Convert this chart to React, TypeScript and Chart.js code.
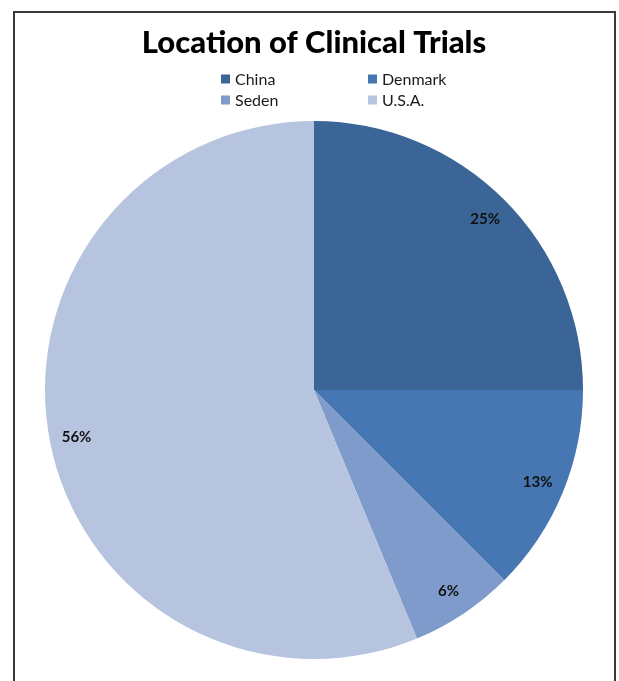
import React, { useEffect, useRef } from "react";
import { Chart, registerables } from "chart.js";

Chart.register(...registerables);

const categories = ["China", "Denmark", "Seden", "U.S.A."];
const trialCounts = [12, 6, 3, 27];
const sliceColors = ["#3A6596", "#4677B3", "#7E9BCB", "#B7C4DF"];
const titleText = "Location of Clinical Trials";

const FONT = "Lato, 'Open Sans', sans-serif";

const gridLegend = {
  id: "gridLegend",
  afterDraw(chart: any, _args: any, opts: any) {
    const ctx = chart.ctx;
    const labels: string[] = chart.data.labels;
    const colors: string[] = chart.data.datasets[0].backgroundColor;
    ctx.save();
    ctx.font = `${opts.fontSize}px ${FONT}`;
    ctx.textBaseline = "middle";
    ctx.textAlign = "left";
    labels.forEach((lab, i) => {
      const col = i % 2;
      const row = Math.floor(i / 2);
      const x = opts.colX[col];
      const y = opts.rowY[row];
      ctx.fillStyle = colors[i];
      ctx.fillRect(x, y - opts.box / 2, opts.box, opts.box);
      ctx.fillStyle = "#1a1a1a";
      ctx.fillText(lab, x + opts.box + 5, y + 0.5);
    });
    ctx.restore();
  },
};

const pctLabels = {
  id: "pctLabels",
  afterDatasetsDraw(chart: any, _args: any, opts: any) {
    const ctx = chart.ctx;
    const meta = chart.getDatasetMeta(0);
    const data: number[] = chart.data.datasets[0].data;
    const total = data.reduce((a, b) => a + b, 0);
    ctx.save();
    ctx.font = `bold ${opts.fontSize}px ${FONT}`;
    ctx.fillStyle = "#111";
    ctx.textAlign = "center";
    ctx.textBaseline = "middle";
    meta.data.forEach((arc: any, i: number) => {
      const p = arc.getProps(["x", "y", "startAngle", "endAngle", "outerRadius"], true);
      const mid = (p.startAngle + p.endAngle) / 2;
      const r = p.outerRadius * opts.ratio;
      const x = p.x + Math.cos(mid) * r;
      const y = p.y + Math.sin(mid) * r;
      ctx.fillText(Math.round((data[i] / total) * 100) + "%", x, y);
    });
    ctx.restore();
  },
};

export default function App() {
  const ref = useRef<HTMLCanvasElement | null>(null);
  useEffect(() => {
    if (!ref.current) return;
    const chart = new Chart(ref.current, {
      type: "pie",
      data: {
        labels: categories,
        datasets: [
          {
            data: trialCounts,
            backgroundColor: sliceColors,
            borderWidth: 0,
          },
        ],
      },
      options: {
        animation: false,
        responsive: false,
        events: [],
        layout: { padding: { top: 10, left: 45, right: 36, bottom: 22 } },
        plugins: {
          legend: { display: false },
          tooltip: { enabled: false },
          title: {
            display: true,
            text: titleText,
            color: "#000",
            font: { family: FONT, size: 31, weight: "900", lineHeight: 1.2 },
            padding: { top: 14, bottom: 59.8 },
          },
          gridLegend: { fontSize: 16, box: 9, colX: [221, 368], rowY: [79, 100] },
          pctLabels: { fontSize: 15, ratio: 0.9 },
        } as any,
      },
      plugins: [gridLegend, pctLabels],
    });
    return () => chart.destroy();
  }, []);
  return (
    <div style={{ position: "fixed", inset: 0, overflow: "hidden", background: "#fff" }}>
      <div
        style={{
          position: "absolute",
          left: 13,
          top: 11,
          width: 599,
          height: 720,
          borderLeft: "2px solid #3a3a3a",
          borderTop: "2px solid #3a3a3a",
          borderRight: "2px solid #3a3a3a",
        }}
      />
      <canvas
        ref={ref}
        width={619}
        height={681}
        style={{ position: "absolute", left: 0, top: 0, width: 619, height: 681 }}
      />
    </div>
  );
}
